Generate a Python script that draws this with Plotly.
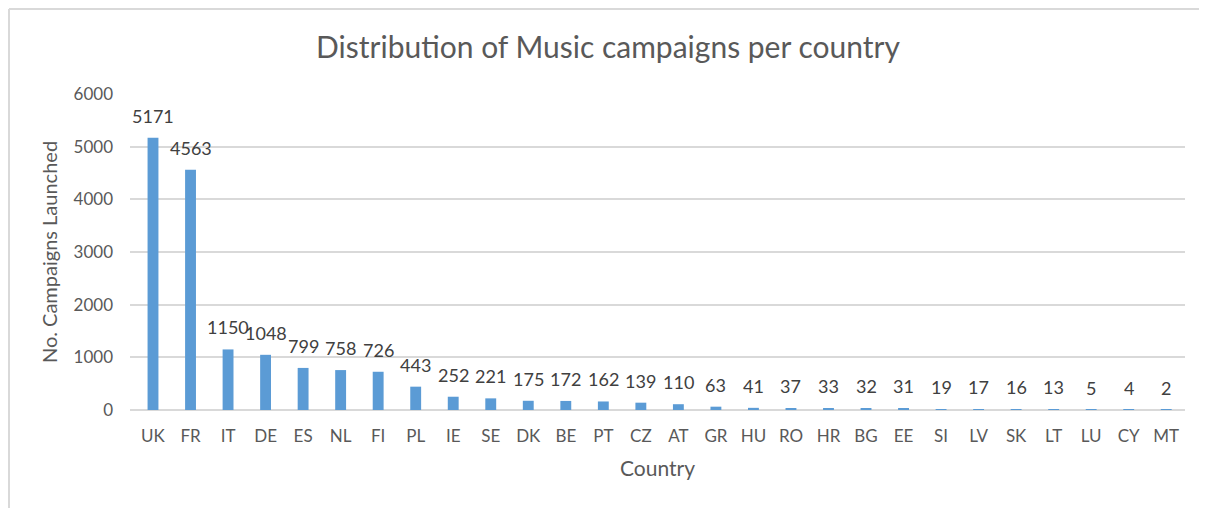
import plotly.graph_objects as go

countries = ["UK", "FR", "IT", "DE", "ES", "NL", "FI", "PL", "IE", "SE", "DK", "BE", "PT", "CZ",
             "AT", "GR", "HU", "RO", "HR", "BG", "EE", "SI", "LV", "SK", "LT", "LU", "CY", "MT"]
campaigns = [5171, 4563, 1150, 1048, 799, 758, 726, 443, 252, 221, 175, 172, 162, 139,
             110, 63, 41, 37, 33, 32, 31, 19, 17, 16, 13, 5, 4, 2]
y_ticks = [0, 1000, 2000, 3000, 4000, 5000, 6000]

# page has an 8px body margin; figure occupies page (8..1207, 8..508)
W, H = 1199, 500
L, R, T, B = 122, 22, 86, 98
pw, ph = W - L - R, H - T - B

FONT = "Lato, Carlito, Calibri, sans-serif"
GRAY = "#595959"

fig = go.Figure(go.Bar(
    x=countries, y=campaigns,
    marker=dict(color="#5B9BD5", line=dict(width=0)),
    hoverinfo="x+y",
))

# data labels above bars
for c, v in zip(countries, campaigns):
    fig.add_annotation(x=c, y=v, xref="x", yref="y", text=str(v), showarrow=False,
                       yanchor="bottom", xanchor="center", yshift=9,
                       font=dict(family=FONT, size=18, color="#404040"))

# chart border (left and top edges visible in reference)
bx = (1 - L) / pw
by = 1 + (T - 1) / ph
fig.add_shape(type="line", xref="paper", yref="paper", x0=bx, x1=bx, y0=-B / ph - 0.1, y1=by,
              line=dict(color="#D9D9D9", width=2))
fig.add_shape(type="line", xref="paper", yref="paper", x0=bx, x1=1 + R / pw + 0.1, y0=by, y1=by,
              line=dict(color="#D9D9D9", width=2))

fig.update_layout(
    width=W, height=H,
    margin=dict(l=L, r=R, t=T, b=B),
    paper_bgcolor="white", plot_bgcolor="white",
    bargap=0.71,
    showlegend=False,
    title=dict(text="Distribution of Music campaigns per country",
               x=600 / W, xref="container", xanchor="center", y=1 - 39 / H, yref="container",
               yanchor="middle",
               font=dict(family=FONT, size=30, color=GRAY)),
    font=dict(family=FONT, color=GRAY),
)

fig.update_xaxes(
    title=dict(text="Country", font=dict(family=FONT, size=21, color=GRAY), standoff=16),
    tickfont=dict(family=FONT, size=17, color=GRAY),
    showgrid=False, showline=False, ticks="", ticklabelstandoff=14,
)
fig.update_yaxes(
    title=dict(text="No. Campaigns Launched", font=dict(family=FONT, size=20, color=GRAY), standoff=10),
    tickfont=dict(family=FONT, size=17, color=GRAY),
    range=[0, 6000], tickvals=y_ticks, ticktext=[str(v) for v in y_ticks],
    showgrid=True, gridcolor="#D9D9D9", gridwidth=1.5,
    zeroline=True, zerolinecolor="#D9D9D9", zerolinewidth=1.5,
    showline=False, ticks="", ticklabelstandoff=16,
)

fig.write_html("out.html")
